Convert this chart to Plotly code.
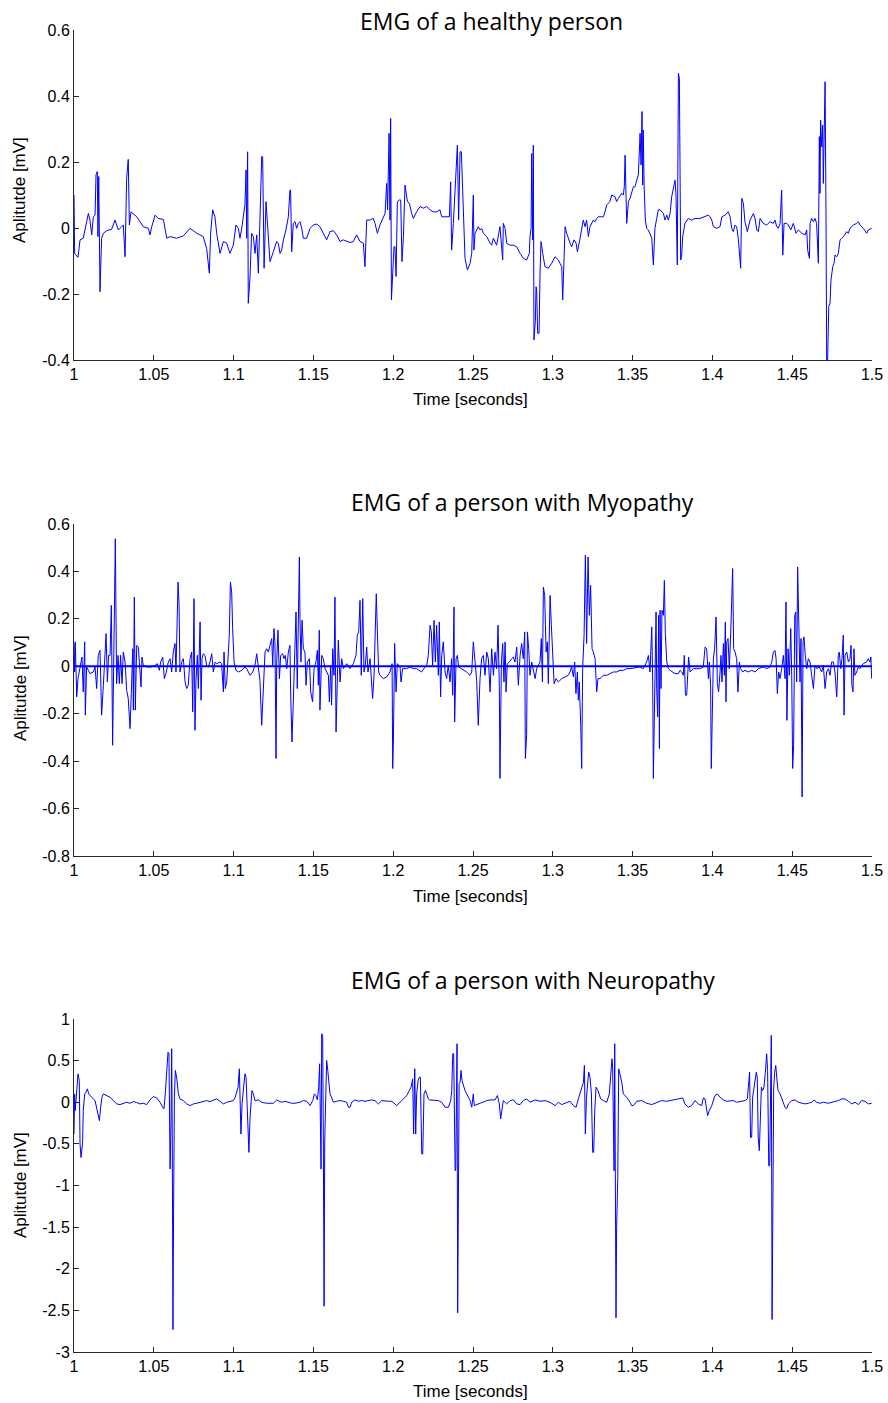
import plotly.graph_objects as go

# ---------------- data (time [s], amplitude [mV]) ----------------
healthy = [
(1.0000,0.100),(1.0004,-0.077),(1.0025,-0.089),(1.0038,-0.036),(1.0058,-0.031),(1.0075,0.009),
(1.0090,0.044),(1.0100,0.024),(1.0111,-0.021),(1.0121,0.034),(1.0132,0.039),(1.0138,0.161),
(1.0146,0.171),(1.0150,-0.026),(1.0155,0.156),(1.0163,-0.193),(1.0173,-0.031),(1.0184,-0.016),
(1.0205,-0.008),(1.0236,-0.004),(1.0257,0.024),(1.0278,-0.006),(1.0309,0.009),(1.0320,-0.087),
(1.0330,0.151),(1.0340,0.208),(1.0347,0.009),(1.0357,0.049),(1.0393,0.034),(1.0434,0.004),
(1.0466,-0.001),(1.0476,-0.021),(1.0487,0.004),(1.0508,0.039),(1.0528,0.029),(1.0560,0.026),
(1.0581,-0.031),(1.0602,-0.026),(1.0643,-0.031),(1.0685,-0.024),(1.0727,-0.001),(1.0769,-0.016),
(1.0810,-0.026),(1.0831,-0.062),(1.0848,-0.137),(1.0856,-0.016),(1.0869,0.055),(1.0883,0.034),
(1.0894,-0.016),(1.0915,-0.077),(1.0936,-0.041),(1.0957,-0.046),(1.0977,-0.077),(1.0998,-0.052),
(1.1015,0.009),(1.1030,-0.001),(1.1040,-0.031),(1.1051,-0.001),(1.1061,0.034),(1.1071,0.070),
(1.1078,0.176),(1.1082,-0.031),(1.1088,0.231),(1.1092,-0.228),(1.1103,-0.147),(1.1113,-0.016),
(1.1124,-0.026),(1.1134,-0.077),(1.1145,-0.021),(1.1155,-0.137),(1.1165,0.024),(1.1176,0.216),
(1.1182,0.216),(1.1191,-0.122),(1.1203,0.080),(1.1218,-0.036),(1.1228,-0.102),(1.1249,-0.072),
(1.1270,-0.041),(1.1280,-0.046),(1.1291,-0.077),(1.1301,-0.067),(1.1312,-0.036),(1.1328,-0.006),
(1.1343,0.034),(1.1353,0.115),(1.1357,0.115),(1.1364,-0.072),(1.1374,0.014),(1.1385,0.019),
(1.1395,-0.001),(1.1406,0.014),(1.1416,0.019),(1.1427,-0.001),(1.1437,-0.031),(1.1458,-0.031),
(1.1479,-0.001),(1.1500,0.009),(1.1521,0.012),(1.1541,0.004),(1.1562,-0.016),(1.1583,-0.036),
(1.1604,-0.011),(1.1625,-0.008),(1.1646,-0.021),(1.1667,-0.041),(1.1687,-0.036),(1.1708,-0.041),
(1.1729,-0.044),(1.1750,-0.041),(1.1771,-0.021),(1.1792,-0.041),(1.1813,-0.046),(1.1823,-0.117),
(1.1834,0.024),(1.1855,0.024),(1.1875,0.029),(1.1886,0.014),(1.1901,-0.016),(1.1917,0.009),
(1.1938,0.034),(1.1949,0.044),(1.1959,0.135),(1.1965,0.055),(1.1974,0.287),(1.1980,0.024),
(1.1984,0.332),(1.1989,-0.218),(1.1997,-0.137),(1.2005,-0.057),(1.2011,-0.057),(1.2018,-0.147),
(1.2026,0.080),(1.2039,0.085),(1.2047,0.085),(1.2055,-0.102),(1.2064,-0.026),(1.2074,0.130),
(1.2089,0.080),(1.2101,0.075),(1.2116,0.044),(1.2126,0.029),(1.2147,0.049),(1.2168,0.065),
(1.2189,0.060),(1.2210,0.065),(1.2231,0.055),(1.2251,0.049),(1.2272,0.049),(1.2293,0.055),
(1.2304,0.034),(1.2335,0.034),(1.2352,0.034),(1.2360,0.140),(1.2366,-0.067),(1.2377,0.014),
(1.2387,0.125),(1.2394,0.206),(1.2402,0.251),(1.2410,0.024),(1.2419,0.231),(1.2427,0.231),
(1.2440,0.024),(1.2450,-0.092),(1.2465,-0.127),(1.2482,-0.107),(1.2492,-0.077),
(1.2502,0.100),(1.2506,-0.067),(1.2513,-0.016),(1.2523,-0.006),(1.2533,0.004),(1.2544,-0.006),
(1.2554,-0.001),(1.2565,-0.016),(1.2586,-0.026),(1.2607,-0.046),(1.2617,-0.052),(1.2628,-0.031),
(1.2638,-0.041),(1.2648,-0.052),(1.2669,0.004),(1.2680,-0.067),(1.2686,-0.097),(1.2690,0.014),
(1.2701,-0.001),(1.2711,-0.046),(1.2732,-0.052),(1.2753,-0.052),(1.2774,-0.057),(1.2795,-0.077),
(1.2816,-0.092),(1.2836,-0.097),(1.2853,-0.077),(1.2857,-0.026),(1.2864,-0.001),(1.2868,0.226),
(1.2874,-0.036),(1.2878,0.251),(1.2882,-0.339),(1.2891,-0.279),(1.2895,-0.178),(1.2899,-0.188),
(1.2905,-0.319),(1.2914,-0.319),(1.2920,-0.137),(1.2926,-0.041),(1.2937,-0.077),(1.2951,-0.117),
(1.2972,-0.122),(1.2993,-0.107),(1.3014,-0.087),(1.3035,-0.097),(1.3045,-0.107),(1.3056,-0.117),
(1.3062,-0.218),(1.3070,-0.077),(1.3077,0.004),(1.3087,-0.016),(1.3098,-0.036),(1.3108,-0.046),
(1.3118,-0.057),(1.3133,-0.036),(1.3146,-0.046),(1.3154,-0.072),(1.3171,-0.031),(1.3181,-0.001),
(1.3191,0.024),(1.3202,0.004),(1.3212,0.024),(1.3223,-0.026),(1.3233,0.004),(1.3254,0.024),
(1.3265,0.019),(1.3275,0.029),(1.3285,0.034),(1.3306,0.034),(1.3317,0.034),(1.3327,0.049),
(1.3338,0.070),(1.3358,0.080),(1.3369,0.100),(1.3390,0.095),(1.3400,0.080),(1.3411,0.090),
(1.3432,0.105),(1.3442,0.100),(1.3448,0.125),(1.3453,0.221),(1.3459,0.085),(1.3463,0.014),
(1.3474,0.080),(1.3484,0.090),(1.3505,0.125),(1.3515,0.125),(1.3526,0.145),(1.3536,0.161),
(1.3547,0.287),(1.3553,0.191),(1.3559,0.353),(1.3563,0.130),(1.3567,0.297),(1.3572,0.130),
(1.3580,0.024),(1.3588,-0.001),(1.3599,-0.006),(1.3609,-0.016),(1.3620,-0.031),(1.3630,-0.112),
(1.3640,-0.001),(1.3651,0.029),(1.3661,0.055),(1.3672,0.055),(1.3682,0.049),(1.3693,0.044),
(1.3703,0.024),(1.3714,0.039),(1.3724,0.024),(1.3735,0.044),(1.3745,0.095),
(1.3755,0.125),(1.3766,0.145),(1.3772,0.100),(1.3780,-0.112),(1.3787,0.469),(1.3793,0.454),
(1.3797,0.196),(1.3801,-0.097),(1.3807,-0.087),(1.3814,-0.026),(1.3828,0.014),(1.3849,0.029),
(1.3870,0.024),(1.3891,0.029),(1.3922,0.029),(1.3954,0.034),(1.3975,0.039),(1.3985,0.034),
(1.3996,0.024),(1.4006,0.004),(1.4027,-0.001),(1.4048,0.004),(1.4059,0.034),(1.4079,0.039),
(1.4100,0.049),(1.4111,0.034),(1.4121,-0.001),(1.4131,-0.011),(1.4142,0.009),(1.4152,0.004),
(1.4163,-0.036),(1.4177,-0.122),(1.4184,0.090),(1.4194,0.075),(1.4204,0.019),(1.4219,-0.011),
(1.4236,0.024),(1.4257,0.044),(1.4267,0.029),(1.4278,-0.006),(1.4288,-0.011),(1.4299,0.029),
(1.4319,0.014),(1.4340,0.009),(1.4361,0.019),(1.4382,0.014),(1.4392,0.024),(1.4403,0.004),
(1.4413,-0.001),(1.4424,0.014),(1.4434,0.115),(1.4441,-0.082),(1.4449,0.014),(1.4466,0.014),
(1.4476,0.009),(1.4491,-0.006),(1.4507,0.014),(1.4524,-0.016),(1.4539,-0.006),(1.4560,-0.016),
(1.4581,-0.021),(1.4591,-0.006),(1.4597,-0.067),(1.4608,-0.092),(1.4612,0.014),(1.4622,0.029),
(1.4633,0.019),(1.4643,0.029),(1.4653,0.014),(1.4664,-0.107),(1.4670,0.277),(1.4674,0.105),
(1.4678,0.327),(1.4685,0.246),(1.4691,0.312),(1.4695,0.135),(1.4699,0.277),(1.4706,0.443),
(1.4712,0.024),(1.4716,-0.400),(1.4722,-0.400),(1.4729,-0.238),(1.4737,-0.228),(1.4743,-0.158),
(1.4754,-0.117),(1.4762,-0.107),(1.4768,-0.082),(1.4779,-0.087),(1.4789,-0.077),(1.4800,-0.036),
(1.4810,-0.031),(1.4821,-0.026),(1.4842,-0.011),(1.4852,-0.016),(1.4862,-0.001),(1.4883,0.009),
(1.4904,0.014),(1.4915,0.019),(1.4925,0.009),(1.4946,-0.001),(1.4967,-0.016),(1.4977,-0.006),
(1.4998,-0.001),
]

myopathy = [
(1.0000,0.096),(1.0004,-0.024),(1.0008,0.103),(1.0017,-0.129),(1.0025,-0.052),(1.0033,-0.024),
(1.0042,0.018),(1.0050,0.039),(1.0058,-0.108),(1.0067,0.103),(1.0071,-0.206),(1.0079,-0.003),
(1.0090,-0.017),(1.0100,-0.031),(1.0121,-0.024),(1.0132,-0.003),(1.0142,-0.094),(1.0152,0.046),
(1.0163,0.067),(1.0173,-0.206),(1.0184,-0.080),(1.0194,0.046),(1.0201,0.138),(1.0209,-0.066),
(1.0217,0.046),(1.0226,0.046),(1.0234,0.257),(1.0242,-0.333),(1.0251,0.046),(1.0259,0.538),
(1.0267,-0.073),(1.0276,0.046),(1.0284,-0.073),(1.0292,0.046),(1.0301,-0.073),(1.0309,0.060),
(1.0320,0.018),(1.0330,-0.101),(1.0340,-0.136),(1.0351,-0.263),(1.0359,-0.115),(1.0368,0.074),
(1.0372,-0.185),(1.0378,0.292),(1.0384,-0.185),(1.0393,0.088),(1.0403,0.081),(1.0414,-0.010),
(1.0420,-0.087),(1.0426,0.039),(1.0434,0.004),(1.0455,-0.003),(1.0487,-0.003),(1.0508,0.004),
(1.0522,0.011),(1.0535,-0.017),(1.0543,0.018),(1.0556,0.039),(1.0566,-0.052),(1.0576,-0.031),
(1.0591,0.018),(1.0602,0.032),(1.0612,-0.024),(1.0622,0.060),(1.0633,0.096),(1.0639,-0.024),
(1.0643,0.152),(1.0652,0.355),(1.0658,0.264),(1.0664,-0.024),(1.0675,0.018),(1.0685,0.032),
(1.0696,-0.066),(1.0706,-0.094),(1.0716,-0.080),(1.0727,0.032),(1.0737,0.060),(1.0744,-0.192),
(1.0752,0.285),(1.0758,-0.270),(1.0764,-0.066),(1.0773,0.046),(1.0779,-0.094),(1.0790,0.187),
(1.0796,-0.143),(1.0802,0.032),(1.0810,0.053),(1.0821,0.046),(1.0831,0.004),(1.0842,-0.003),
(1.0852,0.018),(1.0863,0.053),(1.0873,-0.024),(1.0884,0.018),(1.0894,0.011),(1.0915,0.018),
(1.0925,0.011),(1.0936,-0.108),(1.0940,0.060),(1.0948,-0.094),(1.0957,-0.066),(1.0967,0.074),
(1.0973,0.131),(1.0980,0.355),(1.0988,0.313),(1.0994,0.159),(1.1003,0.018),(1.1015,-0.017),
(1.1030,-0.024),(1.1051,-0.017),(1.1071,-0.003),(1.1082,-0.010),(1.1092,-0.024),(1.1103,-0.038),
(1.1120,-0.024),(1.1134,0.004),(1.1145,0.053),(1.1155,0.004),(1.1165,-0.059),(1.1176,-0.249),
(1.1186,-0.066),(1.1197,0.060),(1.1207,0.074),(1.1218,0.060),(1.1228,0.088),(1.1239,0.117),
(1.1245,0.004),(1.1253,0.159),(1.1259,0.100),(1.1266,-0.389),(1.1270,0.018),(1.1278,0.152),
(1.1287,-0.052),(1.1295,0.046),(1.1307,0.053),(1.1316,0.032),(1.1324,0.046),(1.1333,-0.010),
(1.1343,0.060),(1.1353,0.088),(1.1358,-0.129),(1.1366,-0.319),(1.1374,-0.150),(1.1385,0.074),
(1.1391,0.229),(1.1399,-0.094),(1.1406,0.299),(1.1412,0.461),(1.1416,0.201),(1.1422,0.018),
(1.1429,0.194),(1.1437,0.074),(1.1447,0.060),(1.1454,-0.080),(1.1462,0.018),(1.1475,0.032),
(1.1483,-0.108),(1.1495,-0.150),(1.1504,-0.010),(1.1516,0.018),(1.1525,0.067),(1.1531,-0.080),
(1.1537,0.152),(1.1541,-0.185),(1.1552,0.046),(1.1562,0.032),(1.1573,-0.010),(1.1583,-0.024),
(1.1594,-0.038),(1.1600,-0.150),(1.1608,0.004),(1.1614,-0.164),(1.1621,0.074),(1.1629,-0.038),
(1.1635,0.292),(1.1642,-0.277),(1.1650,-0.066),(1.1656,0.110),(1.1667,-0.066),(1.1677,0.032),
(1.1688,-0.010),(1.1709,0.011),(1.1729,-0.010),(1.1750,0.011),(1.1767,0.046),(1.1775,0.131),
(1.1784,0.145),(1.1792,0.278),(1.1800,-0.038),(1.1809,0.285),(1.1817,-0.024),(1.1825,0.004),
(1.1834,0.081),(1.1842,-0.024),(1.1855,0.032),(1.1863,-0.066),(1.1871,-0.136),(1.1880,-0.038),
(1.1888,0.145),(1.1894,0.306),(1.1901,0.145),(1.1909,-0.024),(1.1917,-0.038),(1.1938,-0.052),
(1.1959,-0.045),(1.1980,-0.024),(1.1993,0.011),(1.1997,-0.431),(1.2001,-0.319),(1.2009,0.096),
(1.2018,-0.108),(1.2026,0.011),(1.2043,-0.003),(1.2049,-0.066),(1.2059,-0.010),(1.2084,-0.010),
(1.2105,-0.003),(1.2126,-0.010),(1.2147,-0.010),(1.2178,-0.024),(1.2199,-0.003),(1.2210,0.004),
(1.2220,0.046),(1.2231,0.173),(1.2239,0.145),(1.2247,0.004),(1.2256,0.194),(1.2264,0.018),
(1.2272,0.173),(1.2283,-0.038),(1.2289,0.187),(1.2297,-0.129),(1.2304,0.046),(1.2314,0.103),
(1.2325,-0.024),(1.2335,-0.052),(1.2345,0.004),(1.2356,-0.066),(1.2366,0.032),(1.2373,-0.122),
(1.2381,0.250),(1.2385,-0.235),(1.2394,0.032),(1.2402,0.046),(1.2410,-0.003),(1.2429,-0.010),
(1.2460,-0.024),(1.2481,-0.038),(1.2492,-0.024),(1.2502,0.103),(1.2511,0.046),(1.2523,-0.059),
(1.2533,-0.249),(1.2544,-0.052),(1.2554,0.032),(1.2565,0.046),(1.2575,-0.038),(1.2586,0.060),
(1.2596,0.032),(1.2607,-0.108),(1.2617,0.074),(1.2628,-0.038),(1.2638,0.060),(1.2648,-0.010),
(1.2657,0.173),(1.2665,-0.087),(1.2669,-0.473),(1.2678,0.018),(1.2686,0.096),(1.2694,-0.066),
(1.2701,0.103),(1.2707,-0.108),(1.2715,0.011),(1.2728,0.018),(1.2742,0.032),(1.2753,0.039),
(1.2763,0.018),(1.2774,0.081),(1.2784,-0.080),(1.2795,0.046),(1.2805,0.096),(1.2815,0.032),
(1.2824,0.145),(1.2828,-0.389),(1.2836,-0.291),(1.2841,0.145),(1.2849,0.074),(1.2857,-0.038),
(1.2868,0.018),(1.2878,-0.024),(1.2889,-0.052),(1.2899,-0.010),(1.2910,0.004),(1.2920,0.018),
(1.2928,0.117),(1.2935,-0.066),(1.2941,0.334),(1.2949,0.299),(1.2958,0.060),(1.2966,0.103),
(1.2972,-0.073),(1.2983,0.299),(1.2991,0.173),(1.2999,0.046),(1.3008,-0.073),(1.3020,-0.052),
(1.3035,-0.066),(1.3056,-0.052),(1.3077,-0.045),(1.3097,-0.038),(1.3108,-0.024),(1.3118,-0.003),
(1.3129,-0.045),(1.3137,0.018),(1.3145,-0.115),(1.3154,-0.024),(1.3160,-0.143),(1.3166,-0.066),
(1.3175,-0.249),(1.3181,-0.431),(1.3187,-0.010),(1.3196,0.131),(1.3204,0.468),(1.3212,0.096),
(1.3221,0.461),(1.3229,0.215),(1.3237,0.341),(1.3246,0.074),(1.3254,0.060),(1.3265,0.032),
(1.3275,-0.108),(1.3283,-0.052),(1.3296,-0.052),(1.3317,-0.038),(1.3338,-0.038),(1.3359,-0.031),
(1.3379,-0.024),(1.3400,-0.024),(1.3421,-0.017),(1.3442,-0.017),(1.3463,-0.010),(1.3484,-0.010),
(1.3505,-0.007),(1.3526,-0.007),(1.3546,-0.003),(1.3567,-0.010),(1.3588,0.018),(1.3599,0.046),
(1.3609,-0.024),(1.3620,0.166),(1.3626,-0.066),(1.3630,-0.473),(1.3634,-0.284),(1.3640,0.018),
(1.3647,0.229),(1.3651,-0.094),(1.3657,-0.213),(1.3663,0.215),(1.3668,-0.347),(1.3672,0.236),
(1.3678,-0.094),(1.3684,0.236),(1.3693,0.215),(1.3699,0.362),(1.3705,0.138),(1.3714,0.018),
(1.3724,-0.010),(1.3735,-0.017),(1.3755,-0.024),(1.3766,-0.031),(1.3787,-0.031),(1.3797,-0.017),
(1.3808,-0.024),(1.3818,-0.038),(1.3824,0.046),(1.3831,-0.122),(1.3839,-0.122),(1.3845,-0.010),
(1.3851,0.039),(1.3860,-0.024),(1.3881,-0.010),(1.3902,-0.010),(1.3922,-0.010),(1.3943,-0.003),
(1.3954,0.081),(1.3964,0.074),(1.3975,-0.052),(1.3981,0.018),(1.3989,-0.087),(1.3993,-0.431),
(1.3998,-0.291),(1.4006,0.032),(1.4014,0.074),(1.4023,0.208),(1.4031,-0.073),(1.4039,-0.108),
(1.4048,-0.024),(1.4054,0.046),(1.4060,-0.066),(1.4069,0.096),(1.4075,-0.038),(1.4081,0.187),
(1.4085,-0.150),(1.4090,0.103),(1.4098,0.117),(1.4106,-0.010),(1.4115,0.145),(1.4121,0.299),
(1.4127,0.412),(1.4133,0.074),(1.4142,0.060),(1.4152,0.032),(1.4160,-0.108),(1.4169,0.018),
(1.4177,-0.010),(1.4190,-0.024),(1.4204,-0.017),(1.4225,-0.024),(1.4246,-0.017),(1.4267,-0.024),
(1.4288,-0.010),(1.4319,-0.003),(1.4340,-0.010),(1.4361,-0.003),(1.4372,0.018),(1.4382,0.060),
(1.4392,0.067),(1.4399,0.032),(1.4407,-0.115),(1.4415,-0.024),(1.4424,-0.052),(1.4434,-0.010),
(1.4445,0.046),(1.4455,-0.052),(1.4461,0.271),(1.4467,-0.228),(1.4474,0.074),(1.4482,-0.038),
(1.4491,0.159),(1.4497,-0.038),(1.4503,-0.431),(1.4509,-0.333),(1.4516,0.215),(1.4522,0.229),
(1.4528,-0.066),(1.4534,0.419),(1.4540,0.215),(1.4549,-0.066),(1.4555,0.117),(1.4562,-0.551),
(1.4568,0.103),(1.4574,0.124),(1.4582,0.046),(1.4591,-0.010),(1.4601,0.032),(1.4612,0.018),
(1.4622,-0.038),(1.4633,-0.094),(1.4643,0.004),(1.4654,-0.010),(1.4670,-0.003),(1.4685,-0.024),
(1.4695,0.004),(1.4706,-0.094),(1.4716,-0.024),(1.4727,-0.010),(1.4737,-0.038),(1.4747,0.018),
(1.4758,0.018),(1.4768,-0.024),(1.4779,-0.129),(1.4789,0.046),(1.4795,0.060),(1.4804,-0.010),
(1.4812,0.032),(1.4820,0.131),(1.4825,-0.206),(1.4831,0.046),(1.4842,0.060),(1.4852,0.018),
(1.4862,0.032),(1.4869,0.088),(1.4874,-0.080),(1.4881,-0.108),(1.4887,0.074),(1.4893,-0.038),
(1.4904,-0.024),(1.4914,-0.003),(1.4924,-0.010),(1.4945,0.011),(1.4966,0.018),(1.4977,0.032),
(1.4987,0.018),(1.4993,0.039),(1.4998,-0.052),
]

neuropathy = [
(1.0000,-0.382),(1.0004,0.100),(1.0008,-0.100),(1.0017,0.201),(1.0025,0.341),(1.0033,0.261),
(1.0038,-0.502),(1.0044,-0.663),(1.0050,-0.502),(1.0054,-0.482),(1.0058,-0.100),(1.0067,0.100),
(1.0075,0.120),(1.0084,0.161),(1.0092,0.100),(1.0104,0.080),(1.0121,0.040),(1.0132,0.020),
(1.0142,-0.060),(1.0150,-0.141),(1.0159,-0.221),(1.0167,-0.060),(1.0175,0.060),(1.0184,0.100),
(1.0205,0.080),(1.0226,0.060),(1.0247,0.020),(1.0267,-0.020),(1.0288,-0.028),(1.0309,-0.012),
(1.0330,0.000),(1.0351,-0.012),(1.0372,0.008),(1.0393,-0.004),(1.0414,-0.020),(1.0434,-0.012),
(1.0455,-0.028),(1.0476,0.028),(1.0497,0.068),(1.0518,0.052),(1.0539,0.000),(1.0556,-0.060),
(1.0564,-0.080),(1.0572,0.100),(1.0581,0.321),(1.0589,0.602),(1.0595,0.582),(1.0602,-0.803),
(1.0608,-0.221),(1.0612,0.643),(1.0616,-0.502),(1.0620,-2.731),(1.0624,-1.305),(1.0629,0.060),
(1.0635,0.382),(1.0643,0.301),(1.0654,0.100),(1.0664,0.040),(1.0685,0.020),(1.0706,-0.020),
(1.0727,-0.040),(1.0748,-0.020),(1.0769,-0.012),(1.0789,0.000),(1.0810,0.012),(1.0831,0.020),
(1.0852,0.008),(1.0873,0.028),(1.0894,0.040),(1.0915,0.012),(1.0936,-0.020),(1.0957,0.000),
(1.0977,0.012),(1.0998,0.020),(1.1010,0.060),(1.1019,0.141),(1.1028,0.181),(1.1036,0.402),
(1.1042,-0.020),(1.1046,-0.382),(1.1053,-0.020),(1.1061,0.141),(1.1071,0.341),(1.1078,0.301),
(1.1084,-0.020),(1.1088,-0.221),(1.1092,-0.602),(1.1096,-0.602),(1.1103,-0.181),(1.1109,0.080),
(1.1115,0.141),(1.1124,0.100),(1.1134,0.020),(1.1155,0.028),(1.1176,0.000),(1.1207,-0.012),
(1.1249,-0.012),(1.1270,0.028),(1.1280,0.020),(1.1301,0.000),(1.1322,0.012),(1.1343,0.000),
(1.1364,-0.012),(1.1385,-0.012),(1.1416,0.000),(1.1437,0.020),(1.1458,0.012),(1.1479,-0.040),
(1.1496,0.020),(1.1506,0.100),(1.1516,0.080),(1.1525,0.028),(1.1533,0.181),(1.1539,0.462),
(1.1544,-0.100),(1.1548,-0.803),(1.1552,0.823),(1.1558,0.803),(1.1562,-0.382),(1.1567,-2.450),
(1.1571,-0.462),(1.1577,0.100),(1.1583,0.502),(1.1590,0.382),(1.1596,0.261),(1.1604,0.100),
(1.1615,0.052),(1.1625,0.000),(1.1646,0.012),(1.1667,0.020),(1.1688,0.012),(1.1709,0.000),
(1.1719,-0.060),(1.1729,-0.060),(1.1740,0.000),(1.1761,0.028),(1.1782,0.012),(1.1803,0.020),
(1.1824,0.012),(1.1844,0.020),(1.1865,0.028),(1.1886,0.020),(1.1907,-0.020),(1.1928,0.020),
(1.1949,0.012),(1.1970,0.012),(1.1991,0.012),(1.2011,-0.020),(1.2022,-0.040),(1.2043,0.000),
(1.2064,0.040),(1.2085,0.080),(1.2101,0.141),(1.2112,0.181),(1.2122,0.281),(1.2128,-0.382),
(1.2135,0.402),(1.2141,-0.382),(1.2147,0.100),(1.2156,0.261),(1.2164,0.301),(1.2170,0.301),
(1.2179,-0.622),(1.2185,-0.622),(1.2193,0.100),(1.2202,0.141),(1.2210,0.100),(1.2220,0.040),
(1.2227,0.028),(1.2252,0.028),(1.2283,0.020),(1.2304,0.000),(1.2325,-0.060),(1.2346,-0.060),
(1.2360,0.020),(1.2367,0.141),(1.2373,0.582),(1.2379,0.582),(1.2383,-0.301),(1.2388,-0.823),
(1.2392,-0.803),(1.2396,0.241),(1.2400,0.703),(1.2404,-2.530),(1.2409,-0.703),(1.2413,0.221),
(1.2419,0.241),(1.2425,0.382),(1.2431,0.261),(1.2440,0.201),(1.2450,0.141),(1.2461,0.100),
(1.2482,0.020),(1.2492,-0.060),(1.2502,0.100),(1.2508,-0.040),(1.2523,-0.028),(1.2544,-0.020),
(1.2565,0.000),(1.2586,0.020),(1.2607,0.028),(1.2638,0.028),(1.2653,0.080),(1.2665,-0.020),
(1.2673,-0.201),(1.2682,-0.100),(1.2690,0.020),(1.2711,-0.020),(1.2732,0.020),(1.2753,0.028),
(1.2774,-0.020),(1.2795,-0.028),(1.2815,0.020),(1.2836,0.040),(1.2857,0.000),(1.2889,0.028),
(1.2920,0.012),(1.2951,0.020),(1.2983,0.000),(1.3014,-0.040),(1.3035,0.000),(1.3056,-0.028),
(1.3077,-0.012),(1.3108,0.012),(1.3129,-0.040),(1.3146,-0.060),(1.3160,0.040),(1.3171,0.100),
(1.3181,0.181),(1.3192,0.241),(1.3198,0.442),(1.3204,-0.382),(1.3211,0.060),(1.3217,0.241),
(1.3225,0.361),(1.3233,0.301),(1.3242,0.100),(1.3250,-0.602),(1.3256,-0.602),(1.3263,-0.100),
(1.3271,0.181),(1.3283,0.141),(1.3292,0.100),(1.3300,0.040),(1.3317,0.020),(1.3338,0.000),
(1.3354,0.100),(1.3363,0.301),(1.3371,0.522),(1.3375,0.422),(1.3379,-0.341),(1.3384,-0.823),
(1.3388,0.703),(1.3392,-0.502),(1.3396,-2.590),(1.3400,-1.506),(1.3407,-0.904),(1.3413,0.402),
(1.3421,0.341),(1.3432,0.241),(1.3442,0.100),(1.3463,0.060),(1.3484,0.000),(1.3494,-0.040),
(1.3505,-0.040),(1.3526,0.012),(1.3557,0.020),(1.3588,-0.012),(1.3620,-0.028),(1.3651,0.000),
(1.3682,0.020),(1.3714,0.012),(1.3745,0.020),(1.3766,0.028),(1.3787,0.040),(1.3814,0.052),
(1.3828,-0.020),(1.3849,-0.060),(1.3870,-0.040),(1.3891,0.020),(1.3912,-0.020),(1.3933,-0.040),
(1.3943,0.052),(1.3954,0.040),(1.3964,-0.100),(1.3970,-0.161),(1.3981,-0.100),(1.3996,-0.040),
(1.4016,0.080),(1.4031,0.100),(1.4048,0.060),(1.4069,0.028),(1.4090,0.012),(1.4110,0.012),
(1.4131,0.020),(1.4152,0.000),(1.4184,0.012),(1.4204,0.020),(1.4219,0.040),(1.4227,0.181),
(1.4233,0.361),(1.4239,-0.422),(1.4246,-0.422),(1.4252,0.060),(1.4260,0.181),(1.4269,0.301),
(1.4275,0.361),(1.4281,0.301),(1.4287,-0.422),(1.4294,-0.582),(1.4300,-0.100),(1.4307,0.181),
(1.4315,0.141),(1.4323,0.181),(1.4332,0.361),(1.4340,0.582),(1.4346,0.382),(1.4353,-0.763),
(1.4359,-0.763),(1.4363,-0.100),(1.4369,0.803),(1.4374,-2.610),(1.4378,-0.904),(1.4384,0.161),
(1.4390,0.361),(1.4397,0.442),(1.4403,0.301),(1.4411,0.141),(1.4424,0.100),(1.4434,0.040),
(1.4445,-0.020),(1.4455,-0.060),(1.4465,-0.080),(1.4476,-0.020),(1.4497,0.020),(1.4518,0.028),
(1.4539,0.000),(1.4560,-0.012),(1.4580,-0.020),(1.4601,-0.012),(1.4622,0.000),(1.4637,0.028),
(1.4653,0.000),(1.4674,-0.012),(1.4695,0.000),(1.4726,-0.012),(1.4758,0.000),(1.4789,0.020),
(1.4810,0.040),(1.4831,0.040),(1.4852,0.012),(1.4873,-0.020),(1.4894,0.000),(1.4915,-0.028),
(1.4935,0.020),(1.4956,0.012),(1.4977,-0.020),(1.4998,-0.012),
]

titles = ["EMG of a healthy person", "EMG of a person with Myopathy", "EMG of a person with Neuropathy"]
x_label = "Time [seconds]"
y_label = "Aplitutde [mV]"

x_tickvals = [1.0, 1.05, 1.1, 1.15, 1.2, 1.25, 1.3, 1.35, 1.4, 1.45, 1.5]
x_ticktext = ["1", "1.05", "1.1", "1.15", "1.2", "1.25", "1.3", "1.35", "1.4", "1.45", "1.5"]
y1_tickvals = [-0.4, -0.2, 0, 0.2, 0.4, 0.6]
y1_ticktext = ["-0.4", "-0.2", "0", "0.2", "0.4", "0.6"]
y2_tickvals = [-0.8, -0.6, -0.4, -0.2, 0, 0.2, 0.4, 0.6]
y2_ticktext = ["-0.8", "-0.6", "-0.4", "-0.2", "0", "0.2", "0.4", "0.6"]
y3_tickvals = [-3, -2.5, -2, -1.5, -1, -0.5, 0, 0.5, 1]
y3_ticktext = ["-3", "-2.5", "-2", "-1.5", "-1", "-0.5", "0", "0.5", "1"]

# ---------------- figure ----------------
W, H = 888, 1403
ML, MR, MT, MB = 74, 16, 30, 51
PW, PH = W - ML - MR, H - MT - MB

def py(p):   # pixel row -> paper y
    return (H - MB - p) / PH

def px(p):   # pixel column -> paper x
    return (p - ML) / PW

BLUE = "#0000FF"
AX = "#262626"
TICKFONT = dict(family="Liberation Sans, Arial", size=16, color="black")
LABELFONT = dict(family="Liberation Sans, Arial", size=17, color="black")

fig = go.Figure()
series = [healthy, myopathy, neuropathy]
for i, s in enumerate(series):
    t = [p[0] for p in s]
    v = [p[1] for p in s]
    fig.add_trace(go.Scatter(x=t, y=v, mode="lines", line=dict(color=BLUE, width=1),
                             xaxis="x" if i == 0 else f"x{i+1}",
                             yaxis="y" if i == 0 else f"y{i+1}",
                             showlegend=False, hoverinfo="skip"))

# zero baseline drawn in the myopathy panel
fig.add_shape(type="line", xref="x2", yref="y2", x0=x_tickvals[0], x1=x_tickvals[-1], y0=0, y1=0,
              line=dict(color=BLUE, width=2), layer="above")

axis_common = dict(showline=True, linecolor=AX, linewidth=1, ticks="inside", ticklen=5,
                   tickcolor=AX, tickwidth=1, mirror=False, showgrid=False, zeroline=False,
                   tickfont=TICKFONT, fixedrange=True, automargin=False)

domains = [(py(360), py(30)), (py(856), py(524)), (py(1352), py(1019))]
yranges = [(-0.4, 0.6), (-0.8, 0.6), (-3, 1)]
yticks = [(y1_tickvals, y1_ticktext), (y2_tickvals, y2_ticktext), (y3_tickvals, y3_ticktext)]

layout = dict(width=W, height=H, margin=dict(l=ML, r=MR, t=MT, b=MB, autoexpand=False),
              paper_bgcolor="white", plot_bgcolor="white", showlegend=False)
for i in range(3):
    xa = "xaxis" if i == 0 else f"xaxis{i+1}"
    ya = "yaxis" if i == 0 else f"yaxis{i+1}"
    layout[xa] = dict(axis_common, domain=[0, 1], anchor="y" if i == 0 else f"y{i+1}",
                      range=[x_tickvals[0], x_tickvals[-1]], tickvals=x_tickvals, ticktext=x_ticktext,
                      ticklabeloverflow="allow")
    layout[ya] = dict(axis_common, domain=list(domains[i]), anchor="x" if i == 0 else f"x{i+1}",
                      range=list(yranges[i]), tickvals=yticks[i][0], ticktext=yticks[i][1])
fig.update_layout(**layout)

title_pos = [(358, 21), (349, 502), (349, 980)]
xlab_y = [400, 896, 1391]
ylab_y = [190, 688, 1185]
ann = []
for i in range(3):
    ann.append(dict(text=titles[i], x=px(title_pos[i][0]), y=py(title_pos[i][1]), xref="paper", yref="paper",
                    xanchor="left", yanchor="middle", showarrow=False,
                    font=dict(family="Open Sans", size=23, color="black")))
    ann.append(dict(text=x_label, x=px(470), y=py(xlab_y[i]), xref="paper", yref="paper",
                    xanchor="center", yanchor="middle", showarrow=False, font=LABELFONT))
    ann.append(dict(text=y_label, x=px(20), y=py(ylab_y[i]), xref="paper", yref="paper",
                    xanchor="center", yanchor="middle", showarrow=False, textangle=-90, font=LABELFONT))
fig.update_layout(annotations=ann)

fig.write_html("out.html")
